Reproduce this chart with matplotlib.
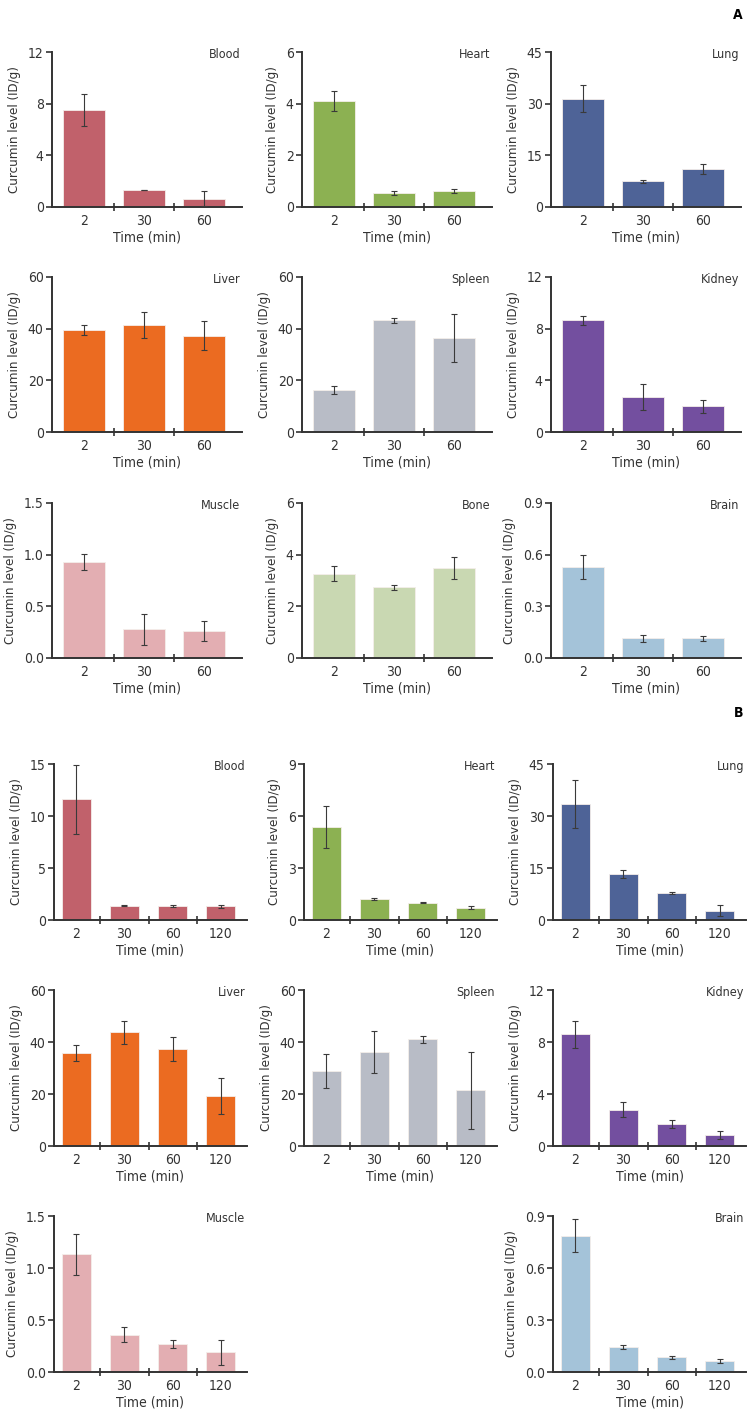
import matplotlib
matplotlib.use('Agg')
import matplotlib.pyplot as plt
from matplotlib.ticker import FixedLocator
from matplotlib import font_manager

# fuente estrecha si existe, si no Liberation Sans
ruta = font_manager.findfont(font_manager.FontProperties(family='DejaVu Sans', stretch='condensed'))
if 'Condensed' in ruta:
    plt.rcParams['font.family'] = ['DejaVu Sans']
    plt.rcParams['font.stretch'] = 'condensed'
    tam = 9.0
else:
    plt.rcParams['font.family'] = ['Liberation Sans', 'DejaVu Sans']
    tam = 8.6

# categorias de tiempo
tiempos_a = ['2', '30', '60']
tiempos_b = ['2', '30', '60', '120']

organos = ['Blood', 'Heart', 'Lung', 'Liver', 'Spleen', 'Kidney', 'Muscle', 'Bone', 'Brain']
colores = ['#C1616B', '#8CB152', '#4E6397', '#EB6B21', '#B8BCC6', '#734F9F',
           '#E3AEB2', '#C9D8B2', '#A4C3D9']

# Panel A: media y error por organo
media_a = {
    'Blood': [7.5, 1.3, 0.65],
    'Heart': [4.1, 0.55, 0.62],
    'Lung': [31.5, 7.5, 11.0],
    'Liver': [39.5, 41.3, 37.3],
    'Spleen': [16.2, 43.2, 36.3],
    'Kidney': [8.65, 2.7, 2.0],
    'Muscle': [0.93, 0.28, 0.26],
    'Bone': [3.27, 2.73, 3.48],
    'Brain': [0.53, 0.115, 0.115],
}
error_a = {
    'Blood': [1.25, 0.02, 0.6],
    'Heart': [0.38, 0.07, 0.07],
    'Lung': [3.9, 0.4, 1.4],
    'Liver': [1.8, 5.0, 5.7],
    'Spleen': [1.6, 1.0, 9.2],
    'Kidney': [0.35, 1.0, 0.5],
    'Muscle': [0.08, 0.15, 0.10],
    'Bone': [0.3, 0.1, 0.43],
    'Brain': [0.07, 0.02, 0.015],
}
ticks_a = {
    'Blood': [0, 4, 8, 12],
    'Heart': [0, 2, 4, 6],
    'Lung': [0, 15, 30, 45],
    'Liver': [0, 20, 40, 60],
    'Spleen': [0, 20, 40, 60],
    'Kidney': [0, 4, 8, 12],
    'Muscle': [0.0, 0.5, 1.0, 1.5],
    'Bone': [0, 2, 4, 6],
    'Brain': [0.0, 0.3, 0.6, 0.9],
}

# Panel B
media_b = {
    'Blood': [11.6, 1.35, 1.35, 1.3],
    'Heart': [5.35, 1.2, 1.0, 0.72],
    'Lung': [33.5, 13.3, 7.8, 2.7],
    'Liver': [35.8, 43.7, 37.4, 19.2],
    'Spleen': [28.7, 36.2, 41.0, 21.4],
    'Kidney': [8.6, 2.8, 1.7, 0.85],
    'Muscle': [1.13, 0.36, 0.27, 0.19],
    'Brain': [0.785, 0.143, 0.085, 0.063],
}
error_b = {
    'Blood': [3.35, 0.05, 0.08, 0.1],
    'Heart': [1.2, 0.05, 0.03, 0.08],
    'Lung': [7.0, 1.2, 0.4, 1.5],
    'Liver': [3.2, 4.5, 4.6, 7.0],
    'Spleen': [6.5, 8.0, 1.2, 14.8],
    'Kidney': [1.05, 0.6, 0.3, 0.3],
    'Muscle': [0.2, 0.07, 0.035, 0.12],
    'Brain': [0.095, 0.012, 0.01, 0.01],
}
ticks_b = {
    'Blood': [0, 5, 10, 15],
    'Heart': [0, 3, 6, 9],
    'Lung': [0, 15, 30, 45],
    'Liver': [0, 20, 40, 60],
    'Spleen': [0, 20, 40, 60],
    'Kidney': [0, 4, 8, 12],
    'Muscle': [0.0, 0.5, 1.0, 1.5],
    'Brain': [0.0, 0.3, 0.6, 0.9],
}

W, H = 753, 1424
fig = plt.figure(figsize=(W / 100, H / 100), dpi=100)


def dibujar(izq, arriba, ancho, alto, tiempos, medias, errores, yticks, nombre, color, ancho_barra, xlim):
    ax = fig.add_axes([izq / W, 1 - (arriba + alto) / H, ancho / W, alto / H])
    x = list(range(len(tiempos)))
    ax.bar(x, medias, width=ancho_barra, color=color, edgecolor='#F4EEEA', linewidth=0.6, zorder=2)
    ax.errorbar(x, medias, yerr=errores, fmt='none', ecolor='#3A3A3A', elinewidth=0.8,
                capsize=2, capthick=0.8, zorder=3)
    ax.set_xlim(*xlim)
    ax.set_ylim(0, yticks[-1])
    ax.set_yticks(yticks)
    if isinstance(yticks[1], float):
        ax.set_yticklabels(['%.1f' % t for t in yticks])
    ax.set_xticks(x)
    ax.set_xticklabels(tiempos)
    ax.xaxis.set_minor_locator(FixedLocator([i + 0.5 for i in x[:-1]]))
    ax.tick_params(axis='x', which='major', length=0, pad=5, labelsize=tam + 1, labelcolor='#333333')
    ax.tick_params(axis='x', which='minor', direction='inout', length=6, width=1.2, color='#333333')
    ax.tick_params(axis='y', direction='out', length=4, width=1.2, pad=2, labelsize=tam + 1,
                   color='#333333', labelcolor='#333333')
    for s in ['top', 'right']:
        ax.spines[s].set_visible(False)
    for s in ['left', 'bottom']:
        ax.spines[s].set_linewidth(1.4)
        ax.spines[s].set_color('#333333')
    ax.set_xlabel('Time (min)', fontsize=tam + 1, color='#333333', labelpad=2)
    ax.set_ylabel('Curcumin level (ID/g)', fontsize=tam + 0.5, color='#333333', labelpad=5)
    ax.text(0.99, 0.985, nombre, transform=ax.transAxes, ha='right', va='center',
            fontsize=tam, color='#333333')
    return ax


# Panel A
col_a = [52, 302, 551]
fila_a = [52, 277, 503]
for i, org in enumerate(organos):
    dibujar(col_a[i % 3], fila_a[i // 3], 190, 155, tiempos_a, media_a[org], error_a[org],
            ticks_a[org], org, colores[i], 0.7, (-0.53, 2.63))

# Panel B (sin hueso)
col_b = [54, 304, 553]
fila_b = [764, 990, 1216]
for i, org in enumerate(organos):
    if org not in media_b:
        continue
    dibujar(col_b[i % 3], fila_b[i // 3], 193, 156, tiempos_b, media_b[org], error_b[org],
            ticks_b[org], org, colores[i], 0.6, (-0.46, 3.54))

fig.text(743 / W, 1 - 15 / H, 'A', ha='right', va='center', fontsize=tam + 1, fontweight='bold')
fig.text(743 / W, 1 - 713 / H, 'B', ha='right', va='center', fontsize=tam + 1, fontweight='bold')

fig.savefig('out.png', dpi=100)
